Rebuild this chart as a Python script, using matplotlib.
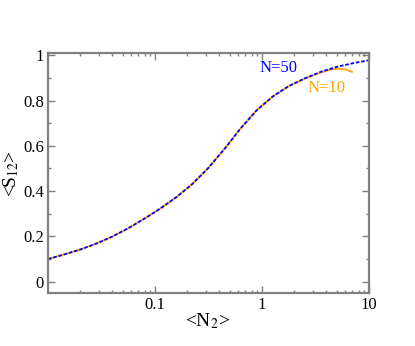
import numpy as np
from matplotlib import pyplot as plt
from matplotlib.ticker import FixedLocator, NullFormatter

plt.rcParams['font.family'] = ['Liberation Serif', 'DejaVu Serif']
plt.rcParams['mathtext.fontset'] = 'stix'

# N=50 curve
n2_50 = [0.01, 0.0141, 0.02, 0.0282, 0.0398, 0.0562, 0.0794, 0.112, 0.158,
         0.224, 0.316, 0.447, 0.631, 0.891, 1.26, 1.78, 2.51, 3.55, 5.01,
         7.08, 10]
s12_50 = [0.100, 0.120, 0.142, 0.168, 0.199, 0.236, 0.278, 0.323, 0.373,
          0.432, 0.503, 0.587, 0.677, 0.757, 0.818, 0.864, 0.898, 0.927,
          0.949, 0.965, 0.978]
# N=10 curve
n2_10 = [0.01, 0.0141, 0.02, 0.0282, 0.0398, 0.0562, 0.0794, 0.112, 0.158,
         0.224, 0.316, 0.447, 0.631, 0.891, 1.26, 1.78, 2.51, 3.55, 4.47,
         5.25, 6.03, 6.92]
s12_10 = [0.100, 0.120, 0.142, 0.168, 0.199, 0.236, 0.278, 0.323, 0.373,
          0.432, 0.503, 0.587, 0.677, 0.757, 0.818, 0.864, 0.897, 0.924,
          0.938, 0.941, 0.937, 0.927]

yticks = [0, 0.2, 0.4, 0.6, 0.8, 1]
yticklabels = ['0', '0.2', '0.4', '0.6', '0.8', '1']
xticks = [0.1, 1, 10]
xticklabels = ['0.1', '1', '10']

fig = plt.figure(figsize=(4.15, 3.46), dpi=100)
ax = fig.add_axes([0.1157, 0.1532, 0.7735, 0.6936])

ax.plot(n2_10, s12_10, color='orange', lw=1.3)
ax.plot(n2_50, s12_50, color='blue', lw=1.3, ls=(0, (2, 1)))

ax.set_xscale('log')
ax.set_xlim(0.01, 10)
ax.set_ylim(-0.05, 1.01)

ax.xaxis.set_major_locator(FixedLocator(xticks))
ax.set_xticklabels(xticklabels)
minor_x = [m * 10.0**e for e in (-2, -1, 0) for m in range(2, 10)]
ax.xaxis.set_minor_locator(FixedLocator(minor_x))
ax.xaxis.set_minor_formatter(NullFormatter())
ax.set_yticks(yticks)
ax.set_yticklabels(yticklabels)
ax.yaxis.set_minor_locator(FixedLocator([0.1, 0.3, 0.5, 0.7, 0.9]))

for s in ax.spines.values():
    s.set_color('#808080')
    s.set_linewidth(1.6)
ax.tick_params(which='both', direction='in', top=True, right=True,
               color='#808080', width=1.0, labelsize=12, pad=3)
ax.tick_params(which='major', length=5)
ax.tick_params(which='minor', length=2.5)

ax.set_xlabel('<N$_{2}$>', fontsize=14)
ax.set_ylabel('<S$_{12}$>', fontsize=14)
ax.xaxis.set_label_coords(0.498, -0.075)
ax.yaxis.set_label_coords(-0.085, 0.5)

ax.text(0.94, 0.943, 'N=50', color='blue', fontsize=12, ha='left', va='center')
ax.text(2.69, 0.857, 'N=10', color='orange', fontsize=12, ha='left', va='center')

fig.savefig('out.png', dpi=100)
